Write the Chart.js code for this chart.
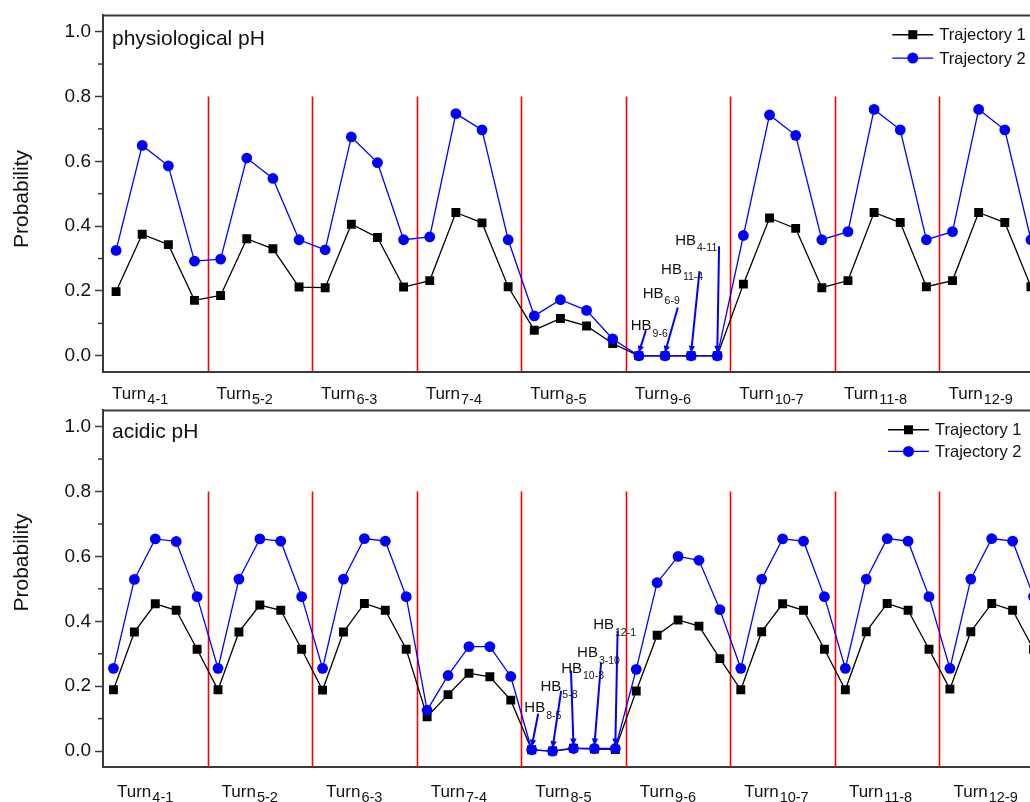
<!DOCTYPE html>
<html>
<head>
<meta charset="utf-8">
<script src="https://cdn.jsdelivr.net/npm/chart.js@4.4.1/dist/chart.umd.min.js"></script>
<style>
  html, body { margin: 0; padding: 0; background: #fff; overflow: hidden; width: 1030px; height: 802px; }
  #phChart { position: absolute; left: 0; top: 0; }
  #acidChart { position: absolute; left: 0; top: 395px; }
</style>
</head>
<body>
<canvas id="phChart" width="1060" height="408"></canvas>
<canvas id="acidChart" width="1060" height="407"></canvas>
<script>
///////////////////////////////////////////////////////////////////////
///                           DATA
///////////////////////////////////////////////////////////////////////
const turnLabels = ['4-1', '5-2', '6-3', '7-4', '8-5', '9-6', '10-7', '11-8', '12-9'];
const yTicks = [0, 0.2, 0.4, 0.6, 0.8, 1.0];
const yMinorTicks = [0.1, 0.3, 0.5, 0.7, 0.9];

// physiological pH, 4 points per turn
const physTraj1 = [0.198, 0.375, 0.343, 0.171, 0.186, 0.361, 0.330, 0.212, 0.210, 0.406, 0.365, 0.212,
  0.232, 0.442, 0.410, 0.213, 0.079, 0.115, 0.092, 0.038, 0, 0, 0, 0,
  0.221, 0.425, 0.393, 0.210, 0.232, 0.442, 0.411, 0.213, 0.232, 0.442, 0.411, 0.213];
const physTraj2 = [0.325, 0.649, 0.586, 0.292, 0.298, 0.610, 0.547, 0.358, 0.327, 0.675, 0.596, 0.358,
  0.367, 0.747, 0.697, 0.358, 0.123, 0.173, 0.140, 0.052, 0, 0, 0, 0,
  0.371, 0.743, 0.680, 0.358, 0.383, 0.760, 0.697, 0.358, 0.383, 0.760, 0.697, 0.358];

// acidic pH, 5 points per turn
const acidTraj1 = [0.189, 0.367, 0.454, 0.434, 0.314, 0.189, 0.367, 0.450, 0.434, 0.314,
  0.188, 0.367, 0.455, 0.434, 0.314, 0.106, 0.174, 0.240, 0.229, 0.157,
  0.004, 0.000, 0.009, 0.006, 0.005, 0.185, 0.357, 0.404, 0.385, 0.285,
  0.189, 0.368, 0.454, 0.434, 0.314, 0.189, 0.368, 0.455, 0.434, 0.314,
  0.191, 0.368, 0.455, 0.434, 0.314];
const acidTraj2 = [0.255, 0.529, 0.654, 0.646, 0.476, 0.255, 0.530, 0.654, 0.647, 0.476,
  0.255, 0.530, 0.655, 0.647, 0.476, 0.126, 0.233, 0.322, 0.322, 0.230,
  0.004, 0.000, 0.008, 0.008, 0.008, 0.252, 0.519, 0.600, 0.588, 0.436,
  0.255, 0.530, 0.654, 0.647, 0.476, 0.255, 0.530, 0.655, 0.647, 0.476,
  0.255, 0.530, 0.655, 0.647, 0.476];

// H-bond annotations (x in point index units, y in probability)
const physHbNames = ['9-6', '6-9', '11-4', '4-11'];
const physHbTarget = [20, 21, 22, 23];
const physHbFromX = [20.27, 21.49, 22.32, 23.07];
const physHbFromY = [0.079, 0.149, 0.261, 0.338];
const physHbTextX = [19.69, 20.15, 20.85, 21.39];
const physHbTextY = [0.079, 0.179, 0.253, 0.343];

const acidHbNames = ['8-5', '5-8', '10-3', '3-10', '12-1'];
const acidHbTarget = [20, 21, 22, 23, 24];
const acidHbFromX = [20.31, 21.41, 21.88, 23.32, 24.11];
const acidHbFromY = [0.115, 0.186, 0.248, 0.273, 0.371];
const acidHbTextX = [19.65, 20.42, 21.41, 22.17, 22.94];
const acidHbTextY = [0.120, 0.184, 0.241, 0.289, 0.376];

///////////////////////////////////////////////////////////////////////
///                           DECORATION PLUGIN
///////////////////////////////////////////////////////////////////////
const FONT = '"Liberation Sans", Arial, sans-serif';
const AXIS_COLOR = '#3a3a3a';
const TEXT_COLOR = '#111';

function drawArrow(ctx, x1, y1, x2, y2) {
  const ang = Math.atan2(y2 - y1, x2 - x1);
  const head = 7, half = 3.2;
  const c = Math.cos(ang), s = Math.sin(ang);
  ctx.beginPath();
  ctx.moveTo(x1, y1);
  ctx.lineTo(x2 - head * c * 0.7, y2 - head * s * 0.7);
  ctx.stroke();
  ctx.beginPath();
  ctx.moveTo(x2, y2);
  ctx.lineTo(x2 - head * c + half * s, y2 - head * s - half * c);
  ctx.lineTo(x2 - head * c - half * s, y2 - head * s + half * c);
  ctx.closePath();
  ctx.fill();
}

function drawSubText(ctx, main, sub, x, y, mainSize, subSize, drop) {
  ctx.font = mainSize + 'px ' + FONT;
  ctx.textAlign = 'left';
  ctx.textBaseline = 'alphabetic';
  ctx.fillText(main, x, y);
  const w = ctx.measureText(main).width;
  ctx.font = subSize + 'px ' + FONT;
  ctx.fillText(sub, x + w + 1, y + drop);
}

const panelDecor = {
  id: 'panelDecor',
  beforeDatasetsDraw(chart, args, o) {
    const { ctx, chartArea, scales } = chart;
    // red separators between turns
    ctx.save();
    ctx.strokeStyle = '#ff0000';
    ctx.lineWidth = 1.6;
    for (let g = 1; g < turnLabels.length; g++) {
      const x = Math.round(scales.x.getPixelForValue(g * o.groupSize - 0.5)) + 0.5;
      ctx.beginPath();
      ctx.moveTo(x, scales.y.getPixelForValue(0.8));
      ctx.lineTo(x, chartArea.bottom);
      ctx.stroke();
    }
    ctx.restore();
  },
  afterDraw(chart, args, o) {
    const { ctx, chartArea, scales } = chart;
    ctx.save();

    // top frame line
    ctx.strokeStyle = AXIS_COLOR;
    ctx.lineWidth = 2;
    ctx.beginPath();
    ctx.moveTo(chartArea.left - 1, chartArea.top);
    ctx.lineTo(chartArea.right, chartArea.top);
    ctx.stroke();

    // minor y ticks
    ctx.lineWidth = 1.5;
    for (const v of yMinorTicks) {
      const y = scales.y.getPixelForValue(v);
      ctx.beginPath();
      ctx.moveTo(chartArea.left - 5, y);
      ctx.lineTo(chartArea.left, y);
      ctx.stroke();
    }

    ctx.fillStyle = TEXT_COLOR;

    // y title
    ctx.save();
    ctx.translate(28, o.yTitleCenter);
    ctx.rotate(-Math.PI / 2);
    ctx.font = '21px ' + FONT;
    ctx.textAlign = 'center';
    ctx.textBaseline = 'alphabetic';
    ctx.fillText('Probability', 0, 0);
    ctx.restore();

    // panel name
    ctx.font = '21px ' + FONT;
    ctx.textAlign = 'left';
    ctx.textBaseline = 'alphabetic';
    ctx.fillText(o.title, chartArea.left + 9, chartArea.top + o.titleDrop);

    // turn labels under the axis
    turnLabels.forEach((lab, g) => {
      const x = scales.x.getPixelForValue(g * o.groupSize - 0.5) + o.labelShift;
      drawSubText(ctx, 'Turn', lab, x, chartArea.bottom + o.labelDrop, 17, 14.5, 5);
    });

    // H-bond arrows
    ctx.strokeStyle = '#0000ff';
    ctx.fillStyle = '#0000ff';
    ctx.lineWidth = 2;
    const series = o.hbSeries;
    o.hbNames.forEach((name, i) => {
      const t = o.hbTarget[i];
      const x1 = scales.x.getPixelForValue(o.hbFromX[i]);
      const y1 = scales.y.getPixelForValue(o.hbFromY[i]);
      const x2 = scales.x.getPixelForValue(t);
      const y2 = scales.y.getPixelForValue(series[t]) - 3;
      drawArrow(ctx, x1, y1, x2, y2);
    });
    ctx.fillStyle = TEXT_COLOR;
    o.hbNames.forEach((name, i) => {
      const x = scales.x.getPixelForValue(o.hbTextX[i]);
      const y = scales.y.getPixelForValue(o.hbTextY[i]);
      drawSubText(ctx, 'HB', name, x, y, 15, 10.5, 6.5);
    });

    // legend
    const items = [
      { text: 'Trajectory 1', color: '#000000', style: 'rect', dy: o.legendRow1 },
      { text: 'Trajectory 2', color: '#0000ff', style: 'circle', dy: o.legendRow2 }
    ];
    const x0 = chartArea.right - o.legendFromRight;
    items.forEach(it => {
      const y = chartArea.top + it.dy;
      ctx.strokeStyle = it.color;
      ctx.fillStyle = it.color;
      ctx.lineWidth = 1.4;
      ctx.beginPath();
      ctx.moveTo(x0, y);
      ctx.lineTo(x0 + 41, y);
      ctx.stroke();
      ctx.beginPath();
      if (it.style === 'rect') {
        ctx.rect(x0 + 20.5 - 4.5, y - 4.5, 9, 9);
      } else {
        ctx.arc(x0 + 20.5, y, 5.5, 0, Math.PI * 2);
      }
      ctx.fill();
      ctx.fillStyle = TEXT_COLOR;
      ctx.font = '16.5px ' + FONT;
      ctx.textAlign = 'left';
      ctx.textBaseline = 'middle';
      ctx.fillText(it.text, x0 + 47, y + 1);
    });

    ctx.restore();
  }
};

///////////////////////////////////////////////////////////////////////
///                           CREATE CHARTS
///////////////////////////////////////////////////////////////////////
function toPoints(arr) {
  return arr.map((v, i) => ({ x: i, y: v }));
}

function makePanel(canvasId, traj1, traj2, groupSize, deco, padTop, bottomSpace) {
  const n = traj1.length;
  return new Chart(document.getElementById(canvasId), {
    type: 'line',
    data: {
      datasets: [
        {
          label: 'Trajectory 1',
          data: toPoints(traj1),
          borderColor: '#000000',
          backgroundColor: '#000000',
          borderWidth: 1.3,
          pointStyle: 'rect',
          pointRadius: 6.3,
          pointBorderWidth: 0,
          tension: 0,
          order: 1
        },
        {
          label: 'Trajectory 2',
          data: toPoints(traj2),
          borderColor: '#0000ff',
          backgroundColor: '#0000ff',
          borderWidth: 1.3,
          pointStyle: 'circle',
          pointRadius: 5.4,
          pointBorderWidth: 0,
          tension: 0,
          order: 0
        }
      ]
    },
    options: {
      responsive: false,
      animation: false,
      layout: { padding: { top: padTop, right: 16, left: 0, bottom: 0 } },
      plugins: {
        legend: { display: false },
        tooltip: { enabled: false },
        panelDecor: Object.assign({ groupSize: groupSize }, deco)
      },
      scales: {
        x: {
          type: 'linear',
          min: -0.5,
          max: n - 0.5,
          ticks: { display: false },
          grid: { display: true, drawOnChartArea: false, drawTicks: false },
          border: { display: true, color: AXIS_COLOR, width: 2 },
          afterFit(scale) { scale.height = bottomSpace; }
        },
        y: {
          min: -0.05,
          max: 1.05,
          afterBuildTicks(scale) { scale.ticks = yTicks.map(v => ({ value: v })); },
          ticks: {
            padding: 4,
            color: TEXT_COLOR,
            font: { family: FONT, size: 19 },
            callback: v => Number(v).toFixed(1)
          },
          grid: { display: true, drawOnChartArea: false, drawTicks: true, tickLength: 8, color: AXIS_COLOR, tickWidth: 1.5 },
          border: { display: true, color: AXIS_COLOR, width: 2 },
          afterFit(scale) { scale.width = 103; }
        }
      }
    },
    plugins: [panelDecor]
  });
}

makePanel('phChart', physTraj1, physTraj2, 4, {
  title: 'physiological pH',
  titleDrop: 30,
  yTitleCenter: 199,
  labelShift: 9,
  labelDrop: 27,
  legendFromRight: 151.7,
  legendRow1: 19.3,
  legendRow2: 42.7,
  hbSeries: physTraj2,
  hbNames: physHbNames,
  hbTarget: physHbTarget,
  hbFromX: physHbFromX,
  hbFromY: physHbFromY,
  hbTextX: physHbTextX,
  hbTextY: physHbTextY
}, 14, 36);

makePanel('acidChart', acidTraj1, acidTraj2, 5, {
  title: 'acidic pH',
  titleDrop: 27.5,
  yTitleCenter: 167.5,
  labelShift: 14,
  labelDrop: 29.5,
  legendFromRight: 156,
  legendRow1: 19.4,
  legendRow2: 41,
  hbSeries: acidTraj2,
  hbNames: acidHbNames,
  hbTarget: acidHbTarget,
  hbFromX: acidHbFromX,
  hbFromY: acidHbFromY,
  hbTextX: acidHbTextX,
  hbTextY: acidHbTextY
}, 13.3, 34.7);
</script>
</body>
</html>
